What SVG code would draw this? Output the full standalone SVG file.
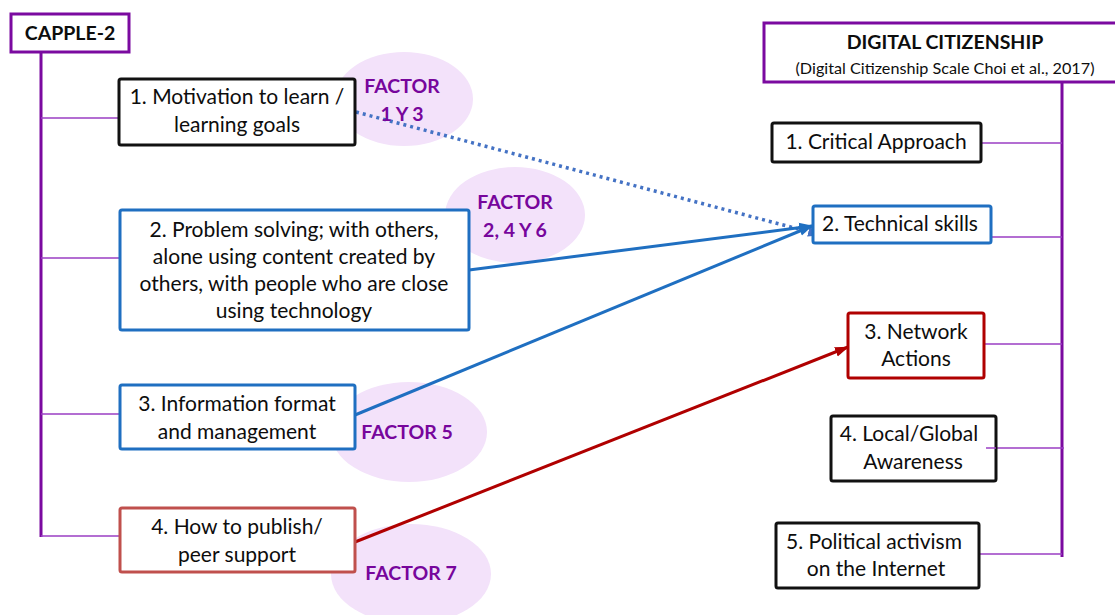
<svg xmlns="http://www.w3.org/2000/svg" width="1115" height="615" viewBox="0 0 1115 615">
  <style>
    .lbl { font-family: Lato, "Open Sans", "Liberation Sans", sans-serif; font-size: 21px; fill: #0d0d0d; text-anchor: middle; }
    .head { font-family: Lato, "Open Sans", "Liberation Sans", sans-serif; font-size: 19.5px; font-weight: bold; fill: #0d0d0d; text-anchor: middle; }
    .sub { font-family: Lato, "Open Sans", "Liberation Sans", sans-serif; font-size: 16.2px; fill: #0d0d0d; text-anchor: middle; }
    .fac { font-family: Lato, "Open Sans", "Liberation Sans", sans-serif; font-size: 19.5px; font-weight: bold; fill: #77069C; text-anchor: middle; }
    .blob { fill: #F3E2FA; stroke: none; }
    .box { fill: #fff; stroke-width: 3; }
    .k { stroke: #111; }
    .b { stroke: #1F6FC1; }
    .r1 { stroke: #C0504D; }
    .r2 { stroke: #B00000; }
    .p { stroke: #7B0AA0; }
    .trunk { stroke: #7B0AA0; stroke-width: 3; fill: none; }
    .twig { stroke: #9B3FC4; stroke-width: 1.5; fill: none; }
    .arrowB { stroke: #1F6FC1; stroke-width: 3; fill: none; }
    .arrowD { stroke: #4472C4; stroke-width: 3.5; stroke-dasharray: 3 4; fill: none; }
    .arrowR { stroke: #B00000; stroke-width: 3; fill: none; }
  </style>
  <defs>
    <marker id="headB" markerUnits="userSpaceOnUse" markerWidth="14" markerHeight="12" refX="13" refY="6" orient="auto">
      <path d="M0,1 L14,6 L0,11 Z" fill="#1F6FC1"/>
    </marker>
    <marker id="headD" markerUnits="userSpaceOnUse" markerWidth="14" markerHeight="12" refX="13" refY="6" orient="auto">
      <path d="M0,1 L14,6 L0,11 Z" fill="#4472C4"/>
    </marker>
    <marker id="headR" markerUnits="userSpaceOnUse" markerWidth="14" markerHeight="12" refX="13" refY="6" orient="auto">
      <path d="M0,1 L14,6 L0,11 Z" fill="#B00000"/>
    </marker>
  </defs>

  <rect width="1115" height="615" fill="#fff"/>

  <!-- factor bubbles -->
  <g id="factor-1-3"><ellipse class="blob" cx="404" cy="99" rx="69" ry="47"/></g>
  <g id="factor-2-4-6"><ellipse class="blob" cx="515" cy="215" rx="70" ry="48"/></g>
  <g id="factor-5"><ellipse class="blob" cx="409" cy="432" rx="78" ry="50"/></g>
  <g id="factor-7"><ellipse class="blob" cx="411" cy="574" rx="80" ry="50"/></g>

  <!-- tree lines -->
  <g id="trees">
    <path class="trunk" d="M41,52 V537"/>
    <path class="twig" d="M41,118 H119 M41,258 H120 M41,414 H120 M41,536 H119"/>
    <path class="trunk" d="M1062,82 V557"/>
    <path class="twig" d="M981,143 H1062 M990,237 H1062 M984,344 H1062 M986,448 H1064 M979,554 H1062"/>
  </g>

  <!-- connectors -->
  <g id="connectors">
    <path class="arrowD" d="M356,112 L821,235" marker-end="url(#headD)"/>
    <path class="arrowB" d="M469,270 L812,226" marker-end="url(#headB)"/>
    <path class="arrowB" d="M355,415 L812,226" marker-end="url(#headB)"/>
    <path class="arrowR" d="M355,542 L848,347" marker-end="url(#headR)"/>
  </g>

  <!-- left column -->
  <g id="capple2">
    <rect class="box p" x="11" y="14" width="118" height="38"/>
    <text class="head" x="70" y="40">CAPPLE-2</text>
  </g>
  <g id="c-motivation">
    <rect class="box k" x="119" y="79" width="236" height="66" rx="2"/>
    <text class="lbl" x="237" y="104">1. Motivation to learn /</text>
    <text class="lbl" x="237" y="132">learning goals</text>
  </g>
  <g id="c-problem">
    <rect class="box b" x="120" y="210" width="349" height="120" rx="2"/>
    <text class="lbl" x="294" y="237">2. Problem solving; with others,</text>
    <text class="lbl" x="294" y="264">alone using content created by</text>
    <text class="lbl" x="294" y="291">others, with people who are close</text>
    <text class="lbl" x="294" y="318">using technology</text>
  </g>
  <g id="c-information">
    <rect class="box b" x="120" y="385" width="235" height="64" rx="2"/>
    <text class="lbl" x="237" y="411">3. Information format</text>
    <text class="lbl" x="237" y="439">and management</text>
  </g>
  <g id="c-publish">
    <rect class="box r1" x="120" y="508" width="235" height="64" rx="2"/>
    <text class="lbl" x="237" y="534">4. How to publish/</text>
    <text class="lbl" x="237" y="562">peer support</text>
  </g>

  <!-- factor labels -->
  <g id="factor-labels">
    <text class="fac" x="402" y="93">FACTOR</text>
    <text class="fac" x="402" y="121">1 Y 3</text>
    <text class="fac" x="515" y="209">FACTOR</text>
    <text class="fac" x="515" y="237">2, 4 Y 6</text>
    <text class="fac" x="407" y="439">FACTOR 5</text>
    <text class="fac" x="411" y="580">FACTOR 7</text>
  </g>

  <!-- right column -->
  <g id="digital-citizenship">
    <rect class="box p" x="764" y="23" width="360" height="59"/>
    <text class="head" x="945" y="49">DIGITAL CITIZENSHIP</text>
    <text class="sub" x="945" y="74">(Digital Citizenship Scale Choi et al., 2017)</text>
  </g>
  <g id="d-critical">
    <rect class="box k" x="772" y="123" width="209" height="39" rx="2"/>
    <text class="lbl" x="876" y="149">1. Critical Approach</text>
  </g>
  <g id="d-technical">
    <rect class="box b" x="813" y="206" width="178" height="37" rx="2"/>
    <text class="lbl" x="900" y="231">2. Technical skills</text>
  </g>
  <g id="d-network">
    <rect class="box r2" x="848" y="313" width="136" height="65" rx="2"/>
    <text class="lbl" x="916" y="339">3. Network</text>
    <text class="lbl" x="916" y="366">Actions</text>
  </g>
  <g id="d-awareness">
    <rect class="box k" x="831" y="416" width="165" height="65" rx="2"/>
    <text class="lbl" x="909" y="441">4. Local/Global</text>
    <text class="lbl" x="913" y="469">Awareness</text>
  </g>
  <g id="d-activism">
    <rect class="box k" x="776" y="523" width="203" height="65" rx="2"/>
    <text class="lbl" x="874" y="549">5. Political activism</text>
    <text class="lbl" x="876" y="576">on the Internet</text>
  </g>
  <path class="twig" d="M986,448 H996"/>
</svg>
